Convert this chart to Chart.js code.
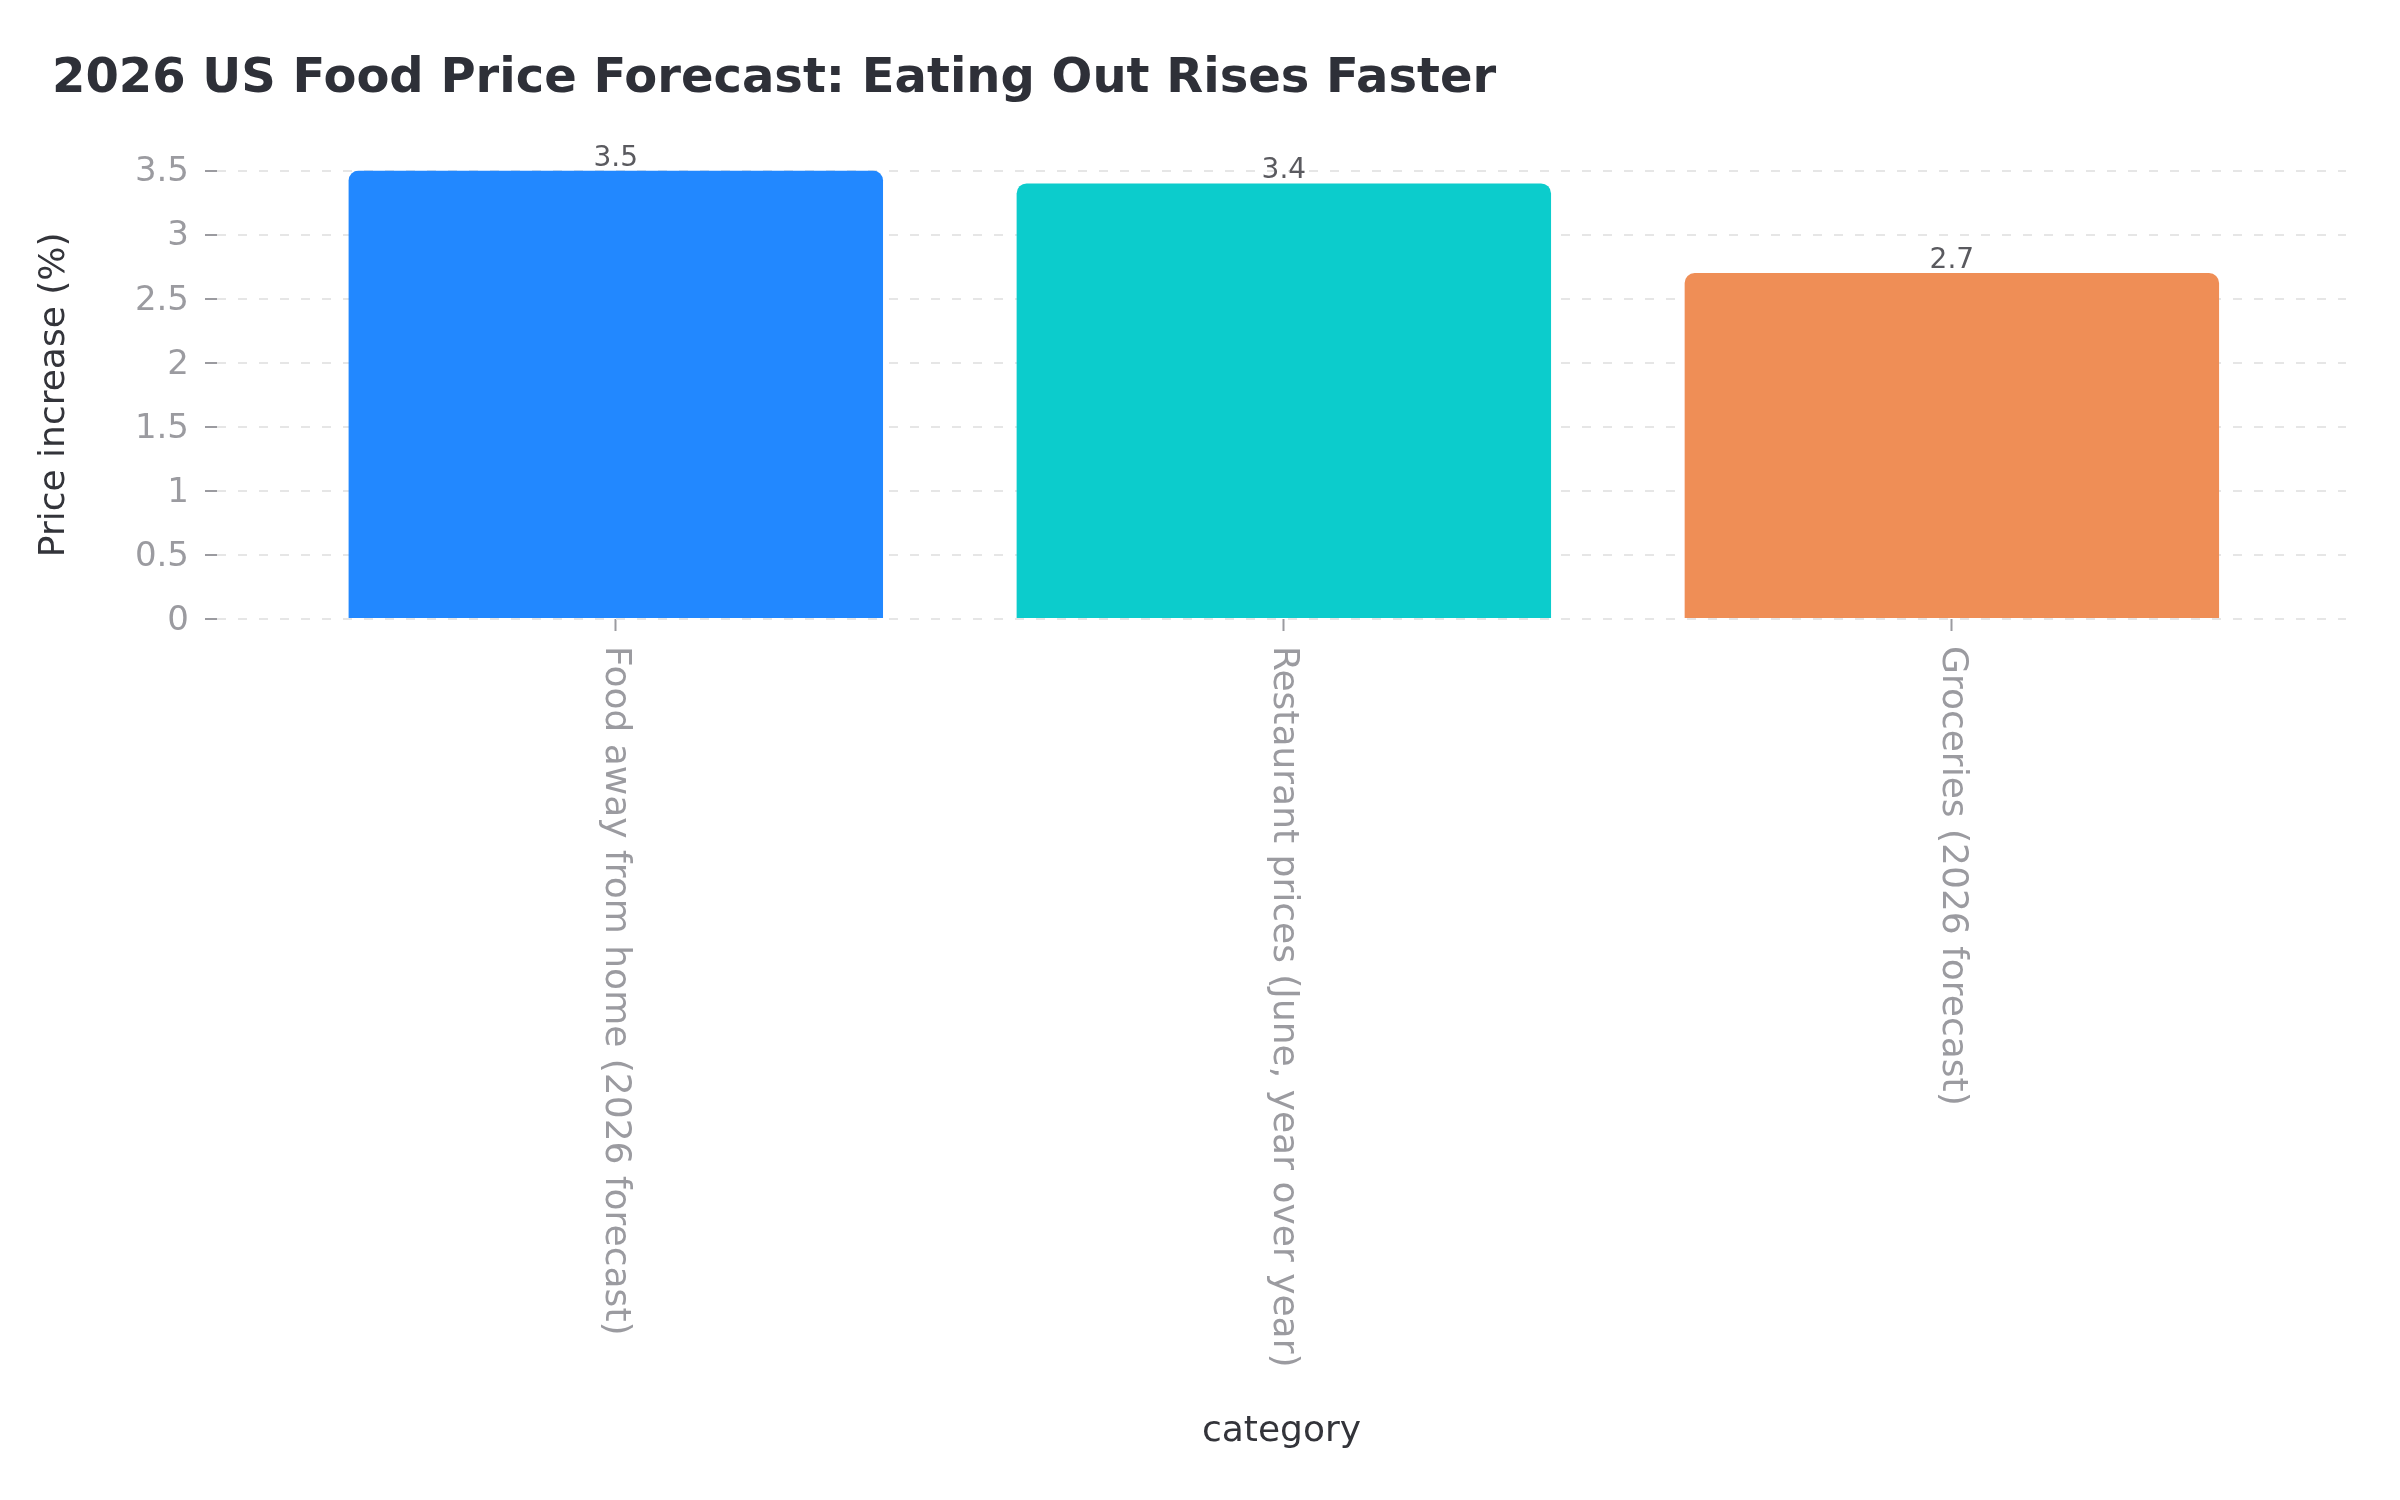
<!DOCTYPE html>
<html>
<head>
<meta charset="utf-8">
<script src="https://cdn.jsdelivr.net/npm/chart.js@4.4.1/dist/chart.umd.min.js"></script>
<style>
  html, body { margin: 0; padding: 0; background: #ffffff; }
  #wrap { width: 2400px; height: 1500px; position: relative; }
</style>
</head>
<body>
<div id="wrap"><canvas id="chart"></canvas></div>
<script>
const TITLE = '2026 US Food Price Forecast: Eating Out Rises Faster';
const categories = [
    'Food away from home (2026 forecast)',
    'Restaurant prices (June, year over year)',
    'Groceries (2026 forecast)'
];
const values = [3.5, 3.4, 2.7];
const barColors = ['#2288ff', '#0ccccc', '#ef8e56'];
const yTicks = [0, 0.5, 1, 1.5, 2, 2.5, 3, 3.5];

const FONT = "'DejaVu Sans', 'Liberation Sans', sans-serif";
const GREY = '#9b9ba0';

// value labels on top of the bars
const valueLabels = {
    id: 'valueLabels',
    afterDatasetsDraw(chart) {
        const ctx = chart.ctx;
        const meta = chart.getDatasetMeta(0);
        ctx.save();
        ctx.font = '28px ' + FONT;
        ctx.fillStyle = '#5a5a5f';
        ctx.textAlign = 'center';
        ctx.textBaseline = 'alphabetic';
        meta.data.forEach((bar, i) => {
            ctx.fillText(String(values[i]), bar.x, bar.y - 5);
        });
        ctx.restore();
    }
};

// category names, turned to read top-down under each tick
const categoryLabels = {
    id: 'categoryLabels',
    afterDraw(chart) {
        const ctx = chart.ctx;
        const x = chart.scales.x;
        ctx.save();
        ctx.font = '36px ' + FONT;
        ctx.fillStyle = GREY;
        ctx.textAlign = 'left';
        ctx.textBaseline = 'middle';
        categories.forEach((name, i) => {
            ctx.save();
            ctx.translate(x.getPixelForValue(i), chart.chartArea.bottom + 27);
            ctx.rotate(Math.PI / 2);
            ctx.fillText(name, 0, 0);
            ctx.restore();
        });
        ctx.restore();
    }
};

const ctx = document.getElementById('chart');
const myChart = new Chart(ctx, {
    type: 'bar',
    data: {
        datasets: [{
            data: values.map((v, i) => ({ x: i, y: v })),
            backgroundColor: barColors,
            borderWidth: 0,
            borderRadius: 10,
            borderSkipped: 'start',
            categoryPercentage: 1,
            barPercentage: 0.8
        }]
    },
    options: {
        responsive: true,
        maintainAspectRatio: false,
        devicePixelRatio: 1,
        animation: false,
        layout: { padding: { left: 52, right: 54, top: 0, bottom: 0 } },
        plugins: {
            legend: { display: false },
            tooltip: { enabled: false },
            title: {
                display: true,
                text: TITLE,
                align: 'start',
                color: '#2e3038',
                font: { family: FONT, size: 48, weight: 'bold', lineHeight: 1.2 },
                padding: { top: 51, bottom: 62 }
            }
        },
        scales: {
            x: {
                type: 'linear',
                min: -0.597,
                max: 2.59,
                offset: false,
                border: { display: false },
                grid: {
                    offset: false,
                    drawOnChartArea: false,
                    drawTicks: true,
                    tickLength: 12,
                    tickWidth: 2,
                    tickColor: GREY
                },
                ticks: { display: false, stepSize: 1 },
                afterBuildTicks: s => { s.ticks = categories.map((c, i) => ({ value: i })); },
                afterFit: s => { s.height = 1500 - 619; },
                title: {
                    display: true,
                    text: 'category',
                    color: '#33343a',
                    font: { family: FONT, size: 36, lineHeight: 1.2 },
                    padding: { top: 0, bottom: 47 }
                }
            },
            y: {
                min: 0,
                max: 3.5,
                border: { display: false, dash: [9, 12] },
                grid: {
                    color: '#e6e6e6',
                    lineWidth: 2,
                    tickLength: 12,
                    tickWidth: 2,
                    tickColor: GREY,
                    tickBorderDash: [],
                    drawTicks: true
                },
                afterBuildTicks: s => { s.ticks = yTicks.map(v => ({ value: v })); },
                afterFit: s => { s.width = 217 - 52; },
                ticks: {
                    color: GREY,
                    padding: 16,
                    labelOffset: 2,
                    font: { family: FONT, size: 34 },
                    callback: v => String(v)
                },
                title: {
                    display: true,
                    text: 'Price increase (%)',
                    color: '#33343a',
                    font: { family: FONT, size: 36, lineHeight: 1.2 },
                    padding: { top: -19, bottom: 0 }
                }
            }
        }
    },
    plugins: [valueLabels, categoryLabels]
});
</script>
</body>
</html>
